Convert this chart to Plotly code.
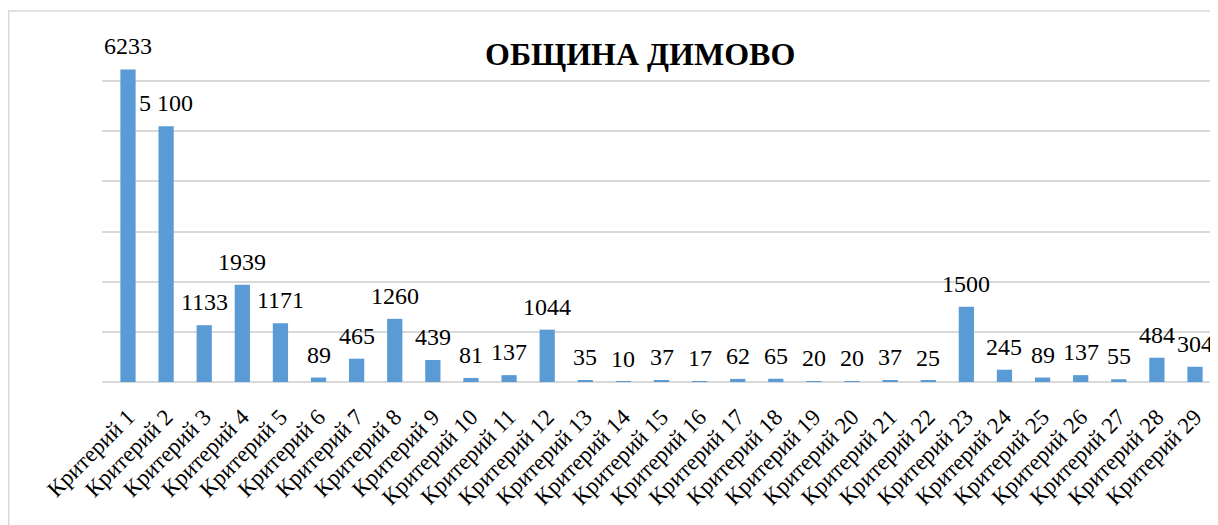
import plotly.graph_objects as go

categories = [f"Критерий {i}" for i in range(1, 30)]
values = [6233, 5100, 1133, 1939, 1171, 89, 465, 1260, 439, 81, 137, 1044, 35, 10, 37,
          17, 62, 65, 20, 20, 37, 25, 1500, 245, 89, 137, 55, 484, 304]
value_labels = ["6233", "5 100", "1133", "1939", "1171", "89", "465", "1260", "439", "81",
                "137", "1044", "35", "10", "37", "17", "62", "65", "20", "20", "37", "25",
                "1500", "245", "89", "137", "55", "484", "304"]
title_text = "ОБЩИНА ДИМОВО"

# the page body adds an 8px offset, so the figure's own coordinates are shifted by -8
W, H = 1218, 525
L, R, T, B = 94, 11, 23, 151
pw, ph = W - L - R, H - T - B

FONT = "Liberation Serif"

fig = go.Figure(go.Bar(x=categories, y=values, marker_color="#5B9BD5",
                       marker_line_width=0, hoverinfo="x+y"))

for c, v, t in zip(categories, values, value_labels):
    fig.add_annotation(x=c, y=v, text=t, showarrow=False, yanchor="bottom",
                       yshift=8, font=dict(family=FONT, size=24, color="#000000"))

fig.add_annotation(xref="paper", yref="paper", x=(632 - L) / pw, y=(H - B - 46) / ph,
                   text=f"<b>{title_text}</b>", showarrow=False, xanchor="center",
                   yanchor="middle", font=dict(family=FONT, size=32, color="#000000"))

# outer chart border
fig.add_shape(type="rect", xref="paper", yref="paper",
              x0=(0.75 - L) / pw, x1=(W + 20 - L) / pw,
              y0=(H - B - (H + 20)) / ph, y1=(H - B - 3) / ph,
              line=dict(color="#d9d9d9", width=1.5), fillcolor="rgba(0,0,0,0)", layer="below")

fig.update_layout(
    width=W, height=H,
    margin=dict(l=L, r=R, t=T, b=B, pad=0, autoexpand=False),
    paper_bgcolor="white", plot_bgcolor="white",
    bargap=0.6, showlegend=False,
    font=dict(family=FONT, color="#000000"),
    xaxis=dict(tickangle=-45, tickfont=dict(family=FONT, size=23, color="#000000"),
               showline=False, ticks="", ticklabelstandoff=16, automargin=False),
    yaxis=dict(range=[0, 7000], dtick=1000, showticklabels=False, showgrid=True,
               gridcolor="#d9d9d9", gridwidth=2, zeroline=True, zerolinecolor="#d9d9d9",
               zerolinewidth=2, showline=False, fixedrange=True, automargin=False),
)

fig.write_html("out.html")
